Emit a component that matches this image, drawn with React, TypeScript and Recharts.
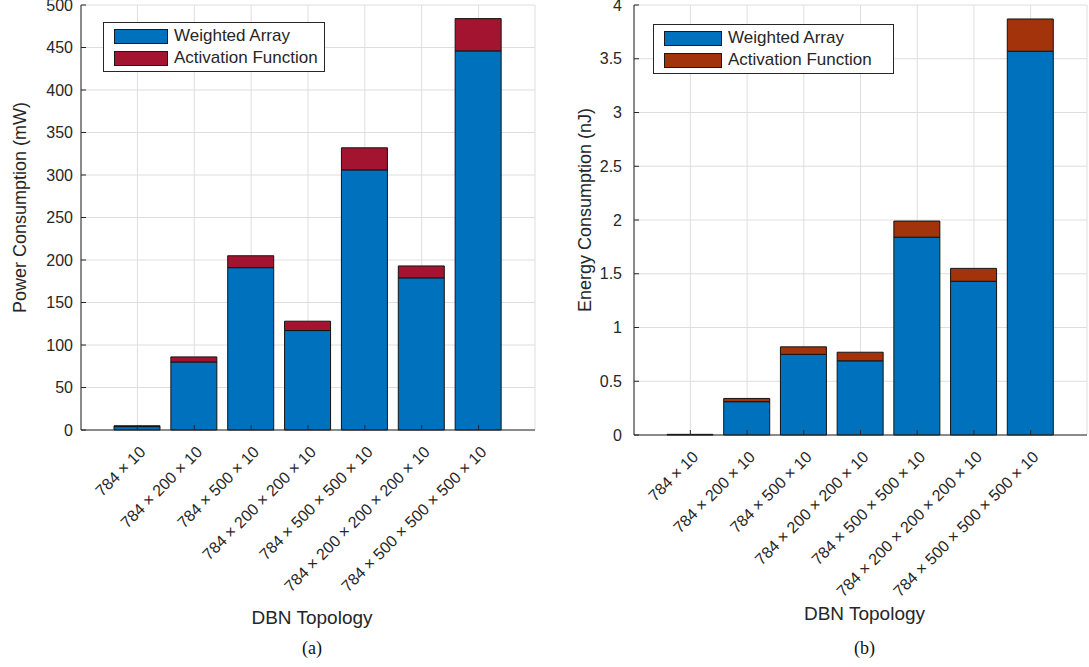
import React from 'react'
import { BarChart, Bar, XAxis, YAxis, CartesianGrid, Legend } from 'recharts'

const topologies = [
  '784 × 10',
  '784 × 200 × 10',
  '784 × 500 × 10',
  '784 × 200 × 200 × 10',
  '784 × 500 × 500 × 10',
  '784 × 200 × 200 × 200 × 10',
  '784 × 500 × 500 × 500 × 10',
]
const powerWeighted = [4, 80, 191, 117, 306, 179, 446]
const powerActivation = [1, 6, 14, 11, 26, 14, 38]
const energyWeighted = [0.004, 0.31, 0.75, 0.69, 1.84, 1.43, 3.57]
const energyActivation = [0.002, 0.03, 0.07, 0.08, 0.15, 0.12, 0.3]
const powerTicks = [0, 50, 100, 150, 200, 250, 300, 350, 400, 450, 500]
const energyTicks = [0, 0.5, 1, 1.5, 2, 2.5, 3, 3.5, 4]

const seriesNames = ['Weighted Array', 'Activation Function']

const powerData = topologies.map((name, i) => ({ name, w: powerWeighted[i], a: powerActivation[i] }))
const energyData = topologies.map((name, i) => ({ name, w: energyWeighted[i], a: energyActivation[i] }))

const BLUE = '#0072BD'
const FONT = '"Liberation Sans", Arial, Helvetica, sans-serif'
const INK = '#262626'

const XTick = (props: any) => {
  const { x, y, payload } = props
  return (
    <text
      transform={`translate(${x + 9},${y + 28}) rotate(-45)`}
      textAnchor="end"
      fontSize={16}
      fill={INK}
      fontFamily={FONT}
    >
      {payload.value}
    </text>
  )
}

const LegendBox = ({ colors, width, swatch }: { colors: string[]; width: number; swatch: number }) => (
  <div
    style={{
      border: `1px solid ${INK}`,
      background: '#fff',
      width,
      boxSizing: 'border-box',
      padding: '2px 0 2px 10px',
      fontFamily: FONT,
      fontSize: 17,
      color: INK,
    }}
  >
    {seriesNames.map((s, i) => (
      <div key={s} style={{ display: 'flex', alignItems: 'center', height: 22 }}>
        <span
          style={{
            display: 'inline-block',
            width: swatch,
            height: 15,
            background: colors[i],
            border: '1px solid #1a1a1a',
            boxSizing: 'border-box',
            marginRight: 6,
          }}
        />
        {s}
      </div>
    ))}
  </div>
)

type PanelProps = {
  data: { name: string; w: number; a: number }[]
  ticks: number[]
  yTitle: string
  caption: string
  actColor: string
  yWidth: number
  yTitleX: number
  marginRight: number
  bottomAxis: number
  labelGap: number
  legendLeft: number
  legendTop: number
  legendWidth: number
  swatch: number
  titleY: number
  captionY: number
}

function Panel(p: PanelProps) {
  const top = p.ticks[p.ticks.length - 1]
  return (
    <BarChart
      width={545}
      height={667}
      data={p.data}
      margin={{ top: 5, right: p.marginRight, left: 0, bottom: 0 }}
      style={{ fontFamily: FONT }}
    >
      <CartesianGrid stroke="#dedede" strokeWidth={1} />
      <XAxis
        dataKey="name"
        height={667 - p.bottomAxis}
        interval={0}
        padding={{ left: 28, right: 28 }}
        tick={<XTick />}
        tickSize={-5}
        tickMargin={0}
        tickLine={{ stroke: INK }}
        axisLine={{ stroke: INK }}
        label={(lp: any) => {
          const vb = lp.viewBox
          const cx = vb.x + vb.width / 2
          return (
            <g>
              <text x={cx + 4} y={p.titleY} textAnchor="middle" fontSize={19} fill={INK} fontFamily={FONT}>
                DBN Topology
              </text>
              <text x={cx + 4} y={p.captionY} textAnchor="middle" fontSize={18} fill="#111" fontFamily="'Liberation Serif', 'Times New Roman', serif">
                {p.caption}
              </text>
            </g>
          )
        }}
      />
      <XAxis
        xAxisId="top"
        orientation="top"
        dataKey="name"
        height={0}
        mirror
        interval={0}
        padding={{ left: 28, right: 28 }}
        tick={false}
        tickSize={5}
        tickLine={{ stroke: INK }}
        axisLine={{ stroke: INK }}
      />
      <YAxis
        width={p.yWidth}
        domain={[0, top]}
        ticks={p.ticks}
        interval={0}
        tickSize={-5}
        tickMargin={p.labelGap + 5}
        tick={{ fontSize: 16, fill: INK, fontFamily: FONT }}
        tickLine={{ stroke: INK }}
        axisLine={{ stroke: INK }}
        label={(lp: any) => {
          const vb = lp.viewBox
          const y = vb.y + vb.height / 2 - 10
          return (
            <text
              transform={`translate(${p.yTitleX},${y}) rotate(-90)`}
              textAnchor="middle"
              fontSize={18}
              fill={INK}
              fontFamily={FONT}
            >
              {p.yTitle}
            </text>
          )
        }}
      />
      <YAxis
        yAxisId="right"
        orientation="right"
        width={0}
        mirror
        domain={[0, top]}
        ticks={p.ticks}
        interval={0}
        tick={false}
        tickSize={5}
        tickLine={{ stroke: INK }}
        axisLine={{ stroke: INK }}
      />
      <Legend
        layout="vertical"
        align="center"
        verticalAlign="middle"
        wrapperStyle={{ left: p.legendLeft, top: p.legendTop, width: 'auto' }}
        content={() => <LegendBox colors={[BLUE, p.actColor]} width={p.legendWidth} swatch={p.swatch} />}
      />
      <Bar dataKey="w" name={seriesNames[0]} stackId="s" fill={BLUE} stroke="#141414" strokeWidth={1} barSize={46} isAnimationActive={false} />
      <Bar dataKey="a" name={seriesNames[1]} stackId="s" fill={p.actColor} stroke="#141414" strokeWidth={1} barSize={46} isAnimationActive={false} />
    </BarChart>
  )
}

export default function App() {
  return (
    <div style={{ position: 'absolute', left: 0, top: 0, width: 1089, height: 667, background: '#fff', overflow: 'hidden' }}>
      <div style={{ position: 'absolute', left: 0, top: 0 }}>
        <Panel
          data={powerData}
          ticks={powerTicks}
          yTitle="Power Consumption (mW)"
          caption="(a)"
          actColor="#A2142F"
          yWidth={81}
          yTitleX={26}
          marginRight={10}
          bottomAxis={430}
          labelGap={8}
          legendLeft={103}
          legendTop={22}
          legendWidth={222}
          swatch={54}
          titleY={624}
          captionY={654}
        />
      </div>
      <div style={{ position: 'absolute', left: 544, top: 0 }}>
        <Panel
          data={energyData}
          ticks={energyTicks}
          yTitle="Energy Consumption (nJ)"
          caption="(b)"
          actColor="#A2330A"
          yWidth={90}
          yTitleX={47}
          marginRight={2}
          bottomAxis={435}
          labelGap={12}
          legendLeft={109}
          legendTop={24}
          legendWidth={241}
          swatch={58}
          titleY={620}
          captionY={654}
        />
      </div>
    </div>
  )
}
